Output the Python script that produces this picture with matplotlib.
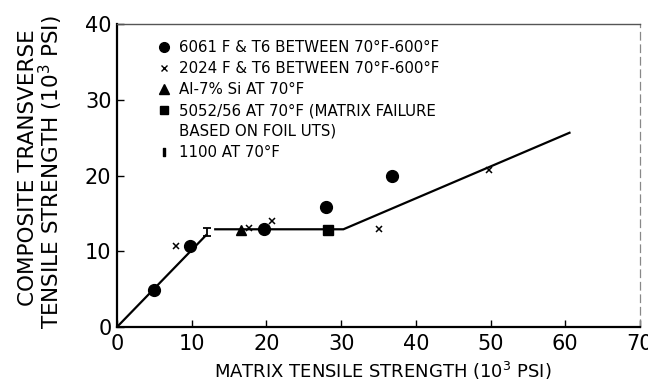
import matplotlib
matplotlib.use("Agg")
import matplotlib.pyplot as plt
from matplotlib.lines import Line2D

plt.rcParams['font.family'] = ['DejaVu Sans']
plt.rcParams['mathtext.fontset'] = 'dejavusans'

# Measured points (matrix UTS, composite transverse UTS), 10^3 psi
al6061_x = [5.0, 9.8, 19.7, 28.0, 36.8]
al6061_y = [4.9, 10.7, 13.0, 15.8, 19.9]
al2024_x = [7.9, 17.7, 20.8, 35.0, 49.8]
al2024_y = [10.7, 13.1, 14.0, 12.9, 20.7]
alsi_x = [16.6]
alsi_y = [12.8]
al5052_x = [28.2]
al5052_y = [12.8]
al1100_x = [12.1]
al1100_y = [12.5]
al1100_err = [0.55]

# Fitted trend lines
fit1_x = [0.0, 12.0]
fit1_y = [0.0, 12.2]
fit2_x = [13.0, 30.3, 60.7]
fit2_y = [12.9, 12.9, 25.7]

x_ticks = [0, 10, 20, 30, 40, 50, 60, 70]
y_ticks = [0, 10, 20, 30, 40]

legend_labels = [
    "6061 F & T6 BETWEEN 70\u00b0F-600\u00b0F",
    "2024 F & T6 BETWEEN 70\u00b0F-600\u00b0F",
    "Al-7% Si AT 70\u00b0F",
    "5052/56 AT 70\u00b0F (MATRIX FAILURE",
    "BASED ON FOIL UTS)",
    "1100 AT 70\u00b0F",
]

fig = plt.figure(figsize=(6.48, 3.90), dpi=100)
ax = fig.add_axes([117/648, 1-327/390, (640-117)/648, (327-24)/390])

ax.plot(fit1_x, fit1_y, color='black', lw=1.6, solid_capstyle='butt')
ax.plot(fit2_x, fit2_y, color='black', lw=1.6, solid_capstyle='butt')

ax.plot(al6061_x, al6061_y, 'o', color='black', ms=8.5, zorder=3)
ax.plot(al2024_x, al2024_y, 'x', color='black', ms=4.5, mew=1.1, zorder=3)
ax.plot(alsi_x, alsi_y, '^', color='black', ms=7.5, zorder=3)
ax.plot(al5052_x, al5052_y, 's', color='black', ms=6.5, zorder=3)
ax.errorbar(al1100_x, al1100_y, yerr=al1100_err, fmt='none', ecolor='black',
            elinewidth=1.3, capsize=3, capthick=1.3, zorder=3)

ax.set_xlim(0, 70)
ax.set_ylim(0, 40)
ax.set_xticks(x_ticks)
ax.set_yticks(y_ticks)
ax.tick_params(direction='in', length=5, width=1, labelsize=15, color='black')
ax.tick_params(axis='x', pad=5)
ax.tick_params(axis='y', pad=4)

for side in ('left', 'bottom'):
    ax.spines[side].set_linewidth(1.6)
ax.spines['top'].set_linewidth(1.0)
ax.spines['top'].set_color('#555555')
ax.spines['right'].set_linewidth(0.9)
ax.spines['right'].set_color('#888888')
ax.spines['right'].set_linestyle((0, (6, 4)))

handles = [
    Line2D([], [], marker='o', ls='none', color='black', ms=7),
    Line2D([], [], marker='x', ls='none', color='black', ms=4, mew=1.0),
    Line2D([], [], marker='^', ls='none', color='black', ms=6.5),
    Line2D([], [], marker='s', ls='none', color='black', ms=5.5),
    Line2D([], [], ls='none'),
    Line2D([], [], marker='$\\mathrm{I}$', ls='none', color='black', ms=6),
]
ax.legend(handles, legend_labels, loc='upper left',
          bbox_to_anchor=((158-117)/523, 1-(40-24)/303),
          frameon=False, fontsize=10.8, handlelength=0.8, handletextpad=0.6,
          labelspacing=0.4, borderpad=0, borderaxespad=0)

ax.set_xlabel("MATRIX TENSILE STRENGTH (10$^3$ PSI)", fontsize=13, va='center')
ax.xaxis.set_label_coords((383-117)/523, -(371-327)/303)

fig.text(28/648, 1-168/390, "COMPOSITE TRANSVERSE", rotation=90,
         fontsize=15.5, ha='center', va='center')
fig.text(51/648, 1-172/390, "TENSILE STRENGTH (10$^3$ PSI)", rotation=90,
         fontsize=15.5, ha='center', va='center')

fig.savefig("out.png", dpi=100)
